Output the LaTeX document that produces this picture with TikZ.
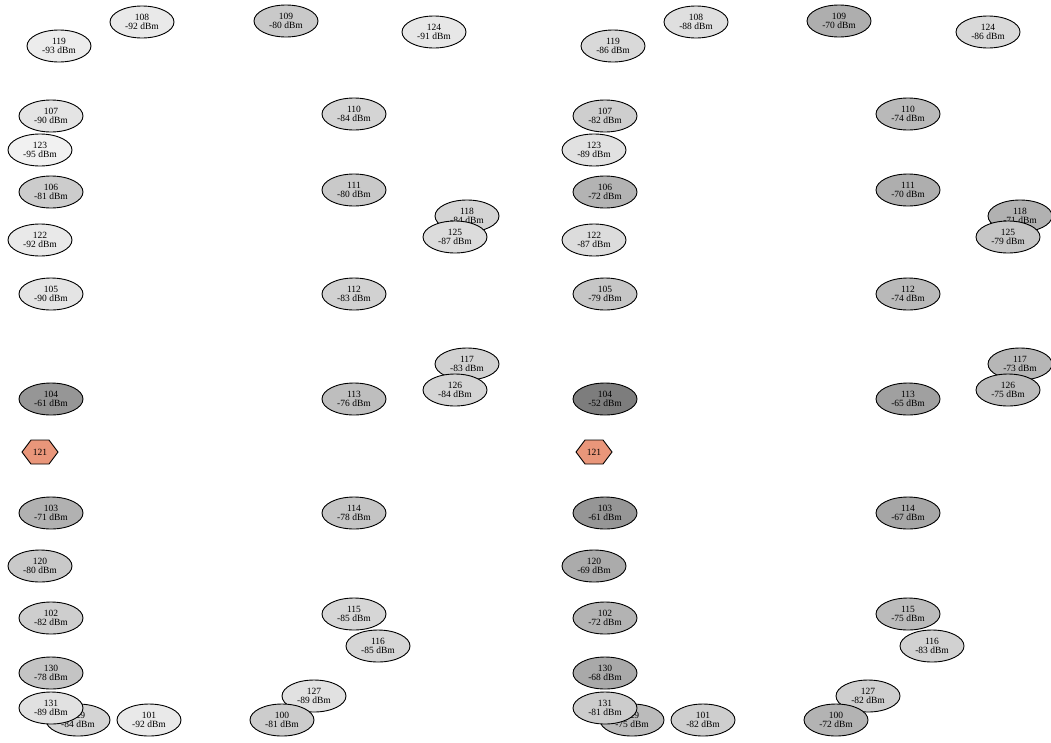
\documentclass[tikz,border=0pt]{standalone}
\usepackage{fontspec}
\setmainfont{Liberation Serif}
\usetikzlibrary{shapes.geometric}
\definecolor{hexfill}{HTML}{E9967A}
\tikzset{
  sn/.style={ellipse, draw=black, line width=0.9pt, minimum width=64pt, minimum height=32pt,
    inner sep=0pt, align=center, font=\fontsize{9.5}{9.5}\selectfont, text=black},
  hexlbl/.style={inner sep=0pt, font=\fontsize{9.5}{10}\selectfont},
  hexshape/.style={draw=black, line width=0.9pt, fill=hexfill}
}
\newcommand\sig[5]{%
  \pgfmathsetmacro\sigp{1.06*(100+(#5))}%
  \node[sn, fill=black!\sigp] (#1) at (#2,#3) {#4\\#5 dBm};}
\newcommand\hexnode[4]{%
  \draw[hexshape] (#2-18,#3) -- (#2-9,#3-12) -- (#2+9,#3-12) -- (#2+18,#3) -- (#2+9,#3+12) -- (#2-9,#3+12) -- cycle;
  \node[hexlbl] (#1) at (#2,#3) {#4};}
\begin{document}
\begin{tikzpicture}[x=1pt,y=-1pt]
\useasboundingbox (0,0) rectangle (1051,742);
% ---------- left panel ----------
\sig{L119}{59}{46}{119}{-93}
\sig{L108}{142}{22}{108}{-92}
\sig{L109}{286}{21}{109}{-80}
\sig{L124}{434}{32}{124}{-91}
\sig{L107}{51}{116}{107}{-90}
\sig{L110}{354}{114}{110}{-84}
\sig{L123}{40}{150}{123}{-95}
\sig{L106}{51}{192}{106}{-81}
\sig{L111}{354}{190}{111}{-80}
\sig{L118}{467}{216}{118}{-84}
\sig{L125}{455}{237}{125}{-87}
\sig{L122}{40}{240}{122}{-92}
\sig{L105}{51}{294}{105}{-90}
\sig{L112}{354}{294}{112}{-83}
\sig{L117}{467}{364}{117}{-83}
\sig{L126}{455}{390}{126}{-84}
\sig{L104}{51}{399}{104}{-61}
\sig{L113}{354}{399}{113}{-76}
\hexnode{L121}{40}{452}{121}
\sig{L103}{51}{513}{103}{-71}
\sig{L114}{354}{513}{114}{-78}
\sig{L120}{40}{566}{120}{-80}
\sig{L102}{51}{618}{102}{-82}
\sig{L115}{354}{614}{115}{-85}
\sig{L116}{378}{646}{116}{-85}
\sig{L130}{51}{673}{130}{-78}
\sig{L127}{314}{696}{127}{-89}
\sig{L129}{78}{720}{129}{-84}
\sig{L131}{51}{708}{131}{-89}
\sig{L101}{149}{720}{101}{-92}
\sig{L100}{282}{720}{100}{-81}
% ---------- right panel ----------
\sig{R119}{613}{46}{119}{-86}
\sig{R108}{696}{22}{108}{-88}
\sig{R109}{839}{21}{109}{-70}
\sig{R124}{988}{32}{124}{-86}
\sig{R107}{605}{116}{107}{-82}
\sig{R110}{908}{114}{110}{-74}
\sig{R123}{594}{150}{123}{-89}
\sig{R106}{605}{192}{106}{-72}
\sig{R111}{908}{190}{111}{-70}
\sig{R118}{1020}{216}{118}{-71}
\sig{R125}{1008}{237}{125}{-79}
\sig{R122}{594}{240}{122}{-87}
\sig{R105}{605}{294}{105}{-79}
\sig{R112}{908}{294}{112}{-74}
\sig{R117}{1020}{364}{117}{-73}
\sig{R126}{1008}{390}{126}{-75}
\sig{R104}{605}{399}{104}{-52}
\sig{R113}{908}{399}{113}{-65}
\hexnode{R121}{594}{452}{121}
\sig{R103}{605}{513}{103}{-61}
\sig{R114}{908}{513}{114}{-67}
\sig{R120}{594}{566}{120}{-69}
\sig{R102}{605}{618}{102}{-72}
\sig{R115}{908}{614}{115}{-75}
\sig{R116}{932}{646}{116}{-83}
\sig{R130}{605}{673}{130}{-68}
\sig{R127}{868}{696}{127}{-82}
\sig{R129}{632}{720}{129}{-75}
\sig{R131}{605}{708}{131}{-81}
\sig{R101}{703}{720}{101}{-82}
\sig{R100}{836}{720}{100}{-72}
\end{tikzpicture}
\end{document}
